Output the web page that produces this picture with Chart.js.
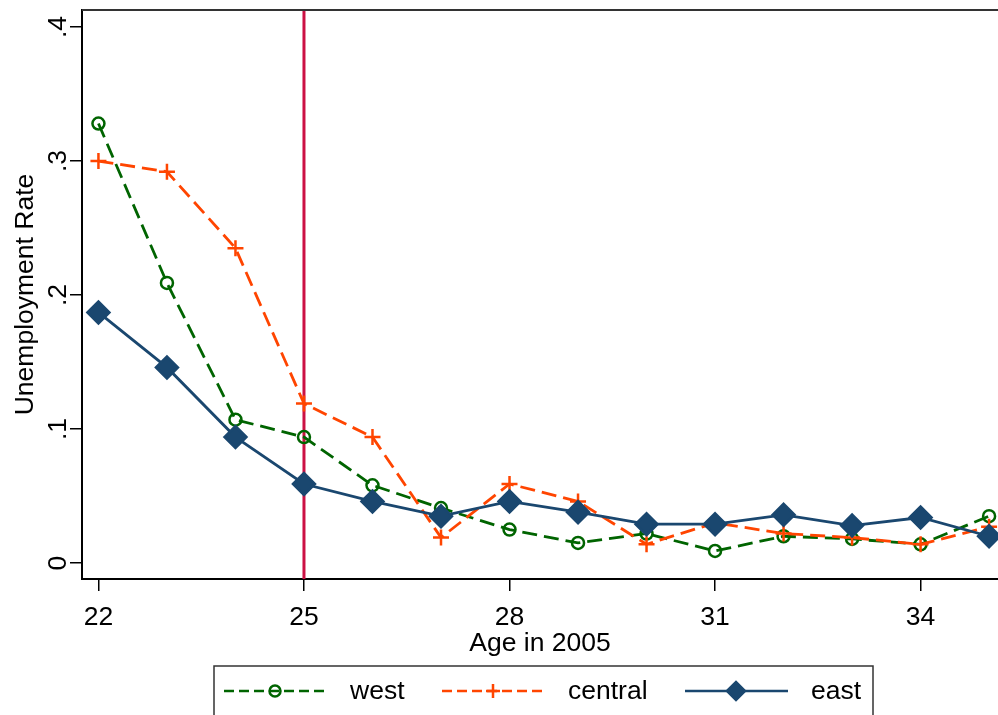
<!DOCTYPE html>
<html>
<head>
<meta charset="utf-8">
<script src="https://cdn.jsdelivr.net/npm/chart.js@4.4.1/dist/chart.umd.min.js"></script>
<style>
  html, body { margin: 0; padding: 0; background: #fff; overflow: hidden; }
  #wrap { width: 998px; height: 715px; position: relative; }
</style>
</head>
<body>
<div id="wrap"><canvas id="uChart"></canvas></div>
<script>
const ages = [22, 23, 24, 25, 26, 27, 28, 29, 30, 31, 32, 33, 34, 35];
const westRate = [0.328, 0.209, 0.107, 0.094, 0.058, 0.041, 0.025, 0.015, 0.022, 0.009, 0.020, 0.018, 0.014, 0.035];
const centralRate = [0.300, 0.292, 0.235, 0.119, 0.094, 0.019, 0.059, 0.046, 0.014, 0.030, 0.022, 0.019, 0.014, 0.027];
const eastRate = [0.187, 0.146, 0.094, 0.059, 0.046, 0.035, 0.046, 0.038, 0.029, 0.029, 0.036, 0.028, 0.034, 0.020];
const xTickValues = [22, 25, 28, 31, 34];
const yTickValues = [0, 0.1, 0.2, 0.3, 0.4];
const yTickLabels = ['0', '.1', '.2', '.3', '.4'];
const cutoffAge = 25;

const FONT = '"Liberation Sans", Arial, sans-serif';
const FSIZE = 26.5;
const toPoints = (vals) => vals.map((v, i) => ({ x: ages[i], y: v }));

const series = [
    { label: 'west', data: westRate, color: '#006400', dash: [15, 7], style: 'circle', radius: 6, fill: 'rgba(0,0,0,0)', order: 2 },
    { label: 'central', data: centralRate, color: '#ff4500', dash: [15, 7], style: 'cross', radius: 8, fill: '#ff4500', order: 1 },
    { label: 'east', data: eastRate, color: '#1a476f', dash: [], style: 'rectRot', radius: 11, fill: '#1a476f', order: 0 },
];

// vertical line at the cutoff age, frame top line, rotated y tick labels, boxed legend
const extras = {
    id: 'extras',
    beforeDatasetsDraw(chart) {
        const { ctx, chartArea, scales } = chart;
        const x = scales.x.getPixelForValue(cutoffAge);
        ctx.save();
        ctx.strokeStyle = '#cc1144';
        ctx.lineWidth = 3;
        ctx.beginPath();
        ctx.moveTo(x, chartArea.top);
        ctx.lineTo(x, chartArea.bottom);
        ctx.stroke();
        ctx.restore();
    },
    afterDraw(chart) {
        const { ctx, chartArea, scales } = chart;
        ctx.save();
        // top frame line
        ctx.strokeStyle = '#333';
        ctx.lineWidth = 2;
        ctx.beginPath();
        ctx.moveTo(chartArea.left, chartArea.top);
        ctx.lineTo(chart.width, chartArea.top);
        ctx.stroke();

        // y tick labels, rotated
        ctx.fillStyle = '#000';
        ctx.font = FSIZE + 'px ' + FONT;
        ctx.textAlign = 'center';
        ctx.textBaseline = 'middle';
        yTickValues.forEach((v, i) => {
            const y = scales.y.getPixelForValue(v);
            ctx.save();
            ctx.translate(59, y);
            ctx.rotate(-Math.PI / 2);
            ctx.fillText(yTickLabels[i], 0, 0);
            ctx.restore();
        });

        // legend box
        ctx.strokeStyle = '#333';
        ctx.lineWidth = 1.5;
        ctx.strokeRect(214, 666, 659, 80);
        const legendY = 691;
        const itemX = [224, 442, 685];
        series.forEach((s, i) => {
            const x0 = itemX[i];
            ctx.save();
            ctx.strokeStyle = s.color;
            ctx.lineWidth = 2.5;
            ctx.setLineDash(s.dash.length ? [10, 5] : []);
            ctx.beginPath();
            ctx.moveTo(x0, legendY);
            ctx.lineTo(x0 + 103, legendY);
            ctx.stroke();
            ctx.setLineDash([]);
            ctx.fillStyle = s.fill;
            Chart.helpers.drawPoint(ctx, {
                pointStyle: s.style,
                radius: s.style === 'rectRot' ? 9 : (s.style === 'cross' ? 7 : 5.5),
                rotation: 0,
                borderWidth: 2.5,
            }, x0 + 51, legendY);
            ctx.restore();
            ctx.fillStyle = '#000';
            ctx.font = FSIZE + 'px ' + FONT;
            ctx.textAlign = 'left';
            ctx.textBaseline = 'middle';
            ctx.fillText(s.label, x0 + 126, legendY + 1);
        });
        ctx.restore();
    }
};

new Chart(document.getElementById('uChart'), {
    type: 'line',
    data: {
        datasets: series.map(s => ({
            label: s.label,
            data: toPoints(s.data),
            borderColor: s.color,
            backgroundColor: s.fill,
            borderWidth: 2.8,
            borderDash: s.dash,
            pointStyle: s.style,
            pointRadius: s.radius,
            pointBorderColor: s.color,
            pointBackgroundColor: s.fill,
            pointBorderWidth: 2.5,
            tension: 0,
            fill: false,
            clip: false,
            order: s.order,
        })),
    },
    options: {
        responsive: true,
        maintainAspectRatio: false,
        animation: false,
        layout: { autoPadding: false, padding: { left: 0, top: 10, right: 0, bottom: 0 } },
        plugins: {
            legend: { display: false },
            tooltip: { enabled: false },
        },
        scales: {
            x: {
                type: 'linear',
                min: 21.76,
                max: 35.13,
                afterBuildTicks: (scale) => { scale.ticks = xTickValues.map(v => ({ value: v })); },
                afterFit: (scale) => { scale.height = 136; scale.paddingLeft = 0; scale.paddingRight = 0; },
                border: { color: '#000', width: 2 },
                grid: { drawOnChartArea: false, tickLength: 12, color: '#000', lineWidth: 1.5 },
                ticks: { color: '#000', font: { family: FONT, size: FSIZE }, padding: 11, maxRotation: 0 },
                title: { display: true, text: 'Age in 2005', color: '#000', font: { family: FONT, size: FSIZE }, padding: { bottom: 55 } },
            },
            y: {
                type: 'linear',
                min: -0.0119,
                max: 0.4127,
                afterBuildTicks: (scale) => { scale.ticks = yTickValues.map(v => ({ value: v })); },
                afterFit: (scale) => { scale.width = 82; scale.paddingTop = 0; scale.paddingBottom = 0; },
                border: { color: '#000', width: 2 },
                grid: { drawOnChartArea: false, tickLength: 12, color: '#000', lineWidth: 1.5 },
                ticks: { display: false },
                title: { display: true, text: 'Unemployment Rate', color: '#000', font: { family: FONT, size: FSIZE }, padding: { top: 10 } },
            },
        },
    },
    plugins: [extras],
});
</script>
</body>
</html>
